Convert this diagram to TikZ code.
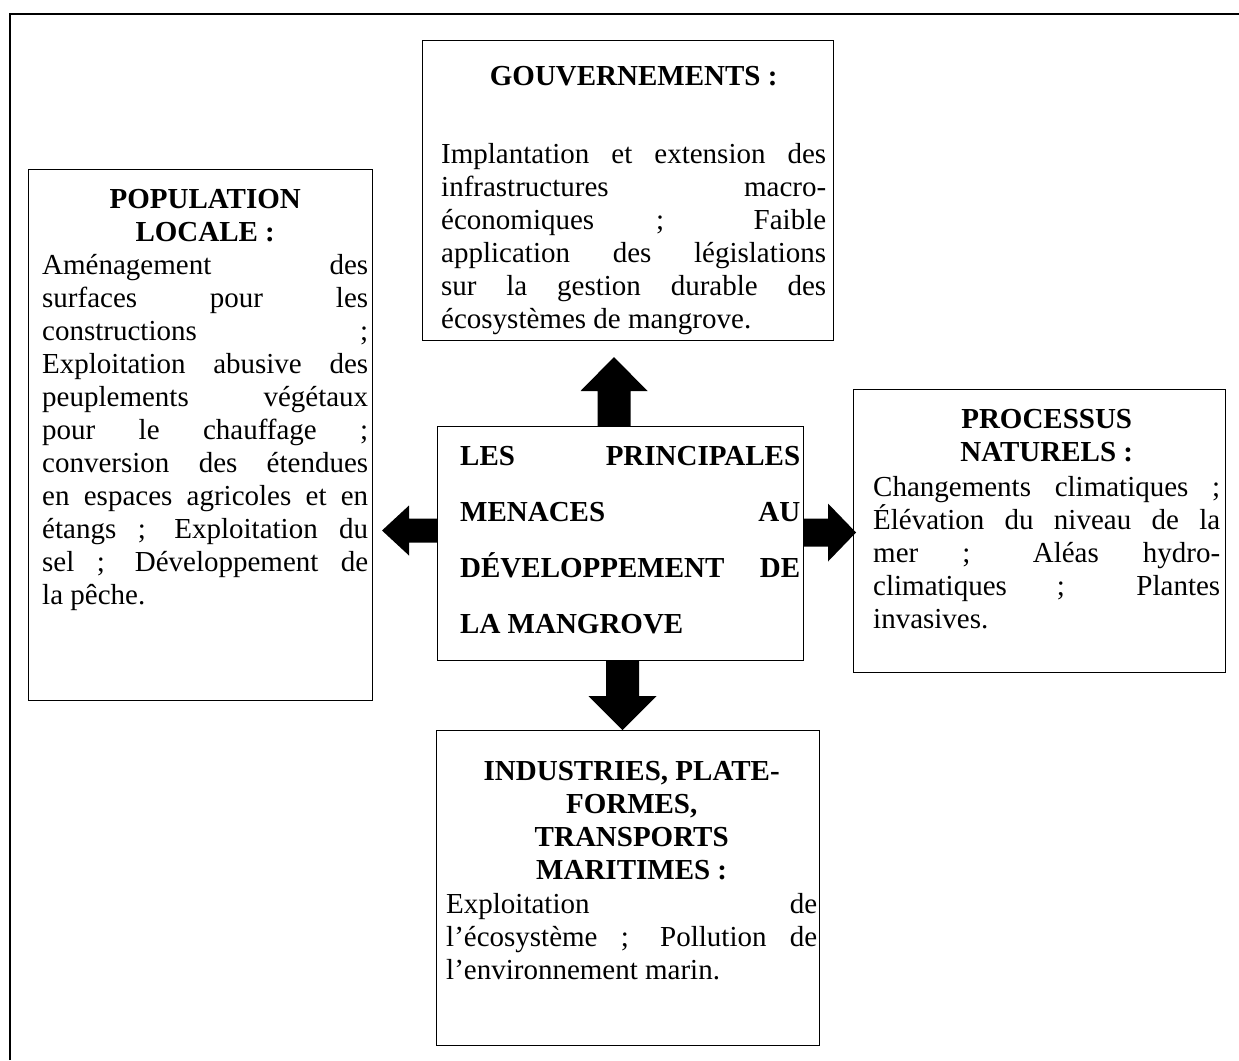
\documentclass[tikz,border=0pt]{standalone}
\usepackage{fontspec}
\setmainfont{Liberation Serif}
\usetikzlibrary{calc}
\hbadness=10000 \vbadness=10000 \hfuzz=4pt
\newcommand\bodyfont{\fontsize{29}{33}\selectfont}
\newcommand\centerfont{\fontsize{29}{56}\selectfont\bfseries}
\begin{document}
\begin{tikzpicture}[x=1pt,y=-1pt,
  box/.style={draw, line width=1pt, inner sep=0, anchor=north west},
  txt/.style={anchor=base west, inner sep=0, font=\bodyfont},
  blockarrow/.style={fill=black}]
\useasboundingbox (0,0) rectangle (1239,1060);
% outer frame
\draw[line width=1.8pt] (10,1060) -- (10,14) -- (1239,14);

% boxes
\node[box, minimum width=344, minimum height=531] (L) at (28,169) {};
\node[box, minimum width=411, minimum height=300] (T) at (422,40) {};
\node[box, minimum width=372, minimum height=283] (R) at (853,389) {};
\node[box, minimum width=383, minimum height=315] (B) at (436,730) {};
\node[box, minimum width=366, minimum height=234] (C) at (437,426) {};

% texts
\node[txt] (Lh) at (42,208) {\begin{minipage}[t]{326pt}\centering\bfseries POPULATION\\LOCALE :\end{minipage}};
\node[txt] (Lb) at (42,274) {\begin{minipage}[t]{326pt}Aménagement des\linebreak surfaces pour les\linebreak constructions ;\linebreak Exploitation abusive des\linebreak peuplements végétaux\linebreak pour le chauffage ;\linebreak conversion des étendues\linebreak en espaces agricoles et en\linebreak étangs ; Exploitation du\linebreak sel ; Développement de\linebreak la pêche.\end{minipage}};

\node[txt] (Th) at (441,85) {\begin{minipage}[t]{385pt}\centering\bfseries GOUVERNEMENTS :\end{minipage}};
\node[txt] (Tb) at (441,163) {\begin{minipage}[t]{385pt}Implantation et extension des\linebreak infrastructures macro-\linebreak économiques ; Faible\linebreak application des législations\linebreak sur la gestion durable des\linebreak écosystèmes de mangrove.\end{minipage}};

\node[txt] (Rh) at (873,428) {\begin{minipage}[t]{347pt}\centering\bfseries PROCESSUS\\NATURELS :\end{minipage}};
\node[txt] (Rb) at (873,496) {\begin{minipage}[t]{347pt}Changements climatiques ;\linebreak Élévation du niveau de la\linebreak mer ; Aléas hydro-\linebreak climatiques ; Plantes\linebreak invasives.\end{minipage}};

\node[txt] (Bh) at (446,780) {\begin{minipage}[t]{371pt}\centering\bfseries INDUSTRIES, PLATE-\\FORMES,\\TRANSPORTS\\MARITIMES :\end{minipage}};
\node[txt] (Bb) at (446,913) {\begin{minipage}[t]{371pt}Exploitation de\linebreak l’écosystème ; Pollution de\linebreak l’environnement marin.\end{minipage}};

\node[txt] (Ct) at (460,465) {\begin{minipage}[t]{340pt}\centerfont LES PRINCIPALES\linebreak MENACES AU\linebreak DÉVELOPPEMENT DE\linebreak LA MANGROVE\end{minipage}};

% block arrows
\begin{scope}[shift={($(C.north)+(-6.5,0)$)}]
\fill[blockarrow] (-16.5,0) -- (-16.5,-35) -- (-33.5,-35) -- (0,-69) -- (33.5,-35) -- (16.5,-35) -- (16.5,0) -- cycle;
\end{scope}
\begin{scope}[shift={($(C.south)+(2,0)$)}]
\fill[blockarrow] (-16.5,0) -- (-16.5,35) -- (-34,35) -- (0,69) -- (34,35) -- (16.5,35) -- (16.5,0) -- cycle;
\end{scope}
\begin{scope}[shift={($(C.west)+(0,-13)$)}]
\fill[blockarrow] (0,-12) -- (-28,-12) -- (-28,-25) -- (-55,0) -- (-28,25) -- (-28,12) -- (0,12) -- cycle;
\end{scope}
\begin{scope}[shift={($(C.east)+(0,-11)$)}]
\fill[blockarrow] (0,-14) -- (24,-14) -- (24,-29) -- (52,0) -- (24,29) -- (24,14) -- (0,14) -- cycle;
\end{scope}
\end{tikzpicture}
\end{document}
